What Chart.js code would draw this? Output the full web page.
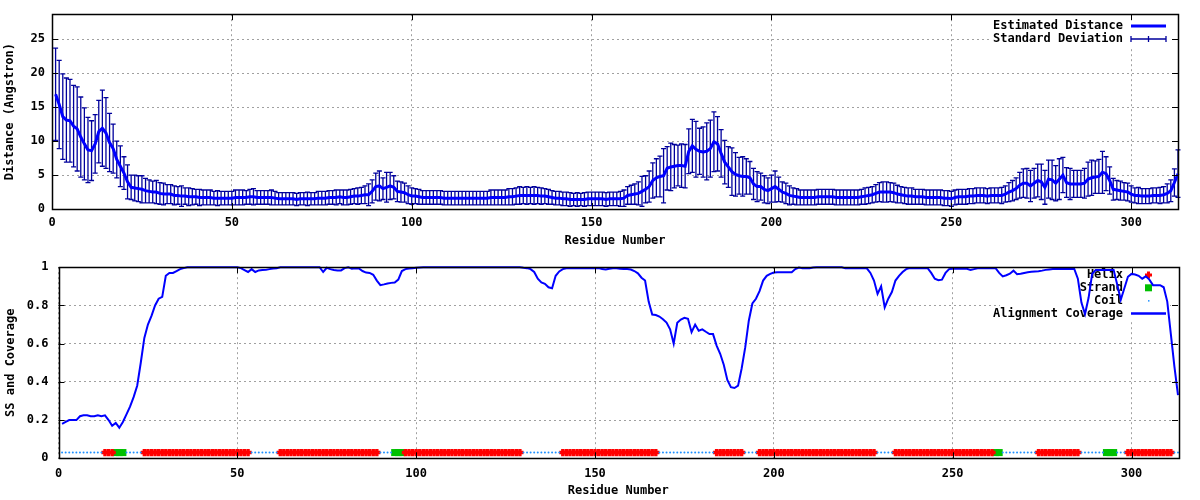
<!DOCTYPE html>
<html>
<head>
<meta charset="utf-8">
<script src="https://cdn.jsdelivr.net/npm/chart.js@4.4.0/dist/chart.umd.min.js"></script>
<style>
  body { margin: 0; background: #fff; }
  #wrap { position: relative; width: 1200px; height: 500px; }
  canvas { position: absolute; left: 0; }
  #chart-dist { top: 0; }
  #chart-cov { top: 250px; }
</style>
</head>
<body>
<div id="wrap">
  <canvas id="chart-dist" width="1200" height="250"></canvas>
  <canvas id="chart-cov" width="1200" height="250"></canvas>
</div>
<script>
// residue numbers 1..313
const residues = Array.from({ length: 313 }, (_, i) => i + 1);
const xTicks = [0, 50, 100, 150, 200, 250, 300];
const distTicks = [0, 5, 10, 15, 20, 25];
const covTicks = [0, 0.2, 0.4, 0.6, 0.8, 1];
const covTickLabels = ['0', '0.2', '0.4', '0.6', '0.8', '1'];

// estimated distance (Angstrom), one value per residue
const distance = [
  16.9, 15.4, 13.6, 13.1, 13.0, 12.2, 11.8, 10.6, 9.6, 8.7,
  8.6, 9.6, 11.4, 11.9, 11.2, 9.8, 8.9, 7.3, 6.3, 5.3,
  4.0, 3.2, 3.1, 3.0, 2.9, 2.7, 2.6, 2.5, 2.5, 2.3,
  2.2, 2.2, 2.2, 2.0, 2.0, 1.9, 1.9, 1.8, 1.8, 1.8,
  1.7, 1.7, 1.7, 1.7, 1.6, 1.6, 1.6, 1.6, 1.6, 1.6,
  1.7, 1.7, 1.7, 1.7, 1.8, 1.8, 1.7, 1.7, 1.7, 1.7,
  1.7, 1.6, 1.5, 1.5, 1.5, 1.5, 1.5, 1.4, 1.5, 1.5,
  1.5, 1.5, 1.5, 1.6, 1.6, 1.6, 1.7, 1.7, 1.7, 1.8,
  1.7, 1.7, 1.8, 1.9, 1.9, 2.0, 2.1, 2.1, 2.6, 3.3,
  3.4, 3.0, 3.2, 3.4, 3.2, 2.6, 2.5, 2.4, 2.1, 1.9,
  1.9, 1.8, 1.7, 1.7, 1.7, 1.7, 1.7, 1.7, 1.6, 1.6,
  1.6, 1.6, 1.6, 1.6, 1.6, 1.6, 1.6, 1.6, 1.6, 1.6,
  1.6, 1.7, 1.7, 1.7, 1.7, 1.7, 1.8, 1.8, 1.9, 2.0,
  2.0, 2.0, 2.0, 2.0, 2.0, 1.9, 1.9, 1.8, 1.7, 1.6,
  1.6, 1.5, 1.5, 1.4, 1.4, 1.4, 1.4, 1.4, 1.5, 1.5,
  1.5, 1.5, 1.5, 1.4, 1.5, 1.5, 1.5, 1.5, 1.6, 2.0,
  2.1, 2.2, 2.3, 2.6, 2.9, 3.3, 4.2, 4.6, 4.8, 4.9,
  6.0, 6.2, 6.3, 6.4, 6.4, 6.3, 8.5, 9.3, 8.8, 8.5,
  8.4, 8.5, 8.9, 9.9, 9.6, 8.2, 6.9, 6.2, 5.5, 5.1,
  4.9, 4.8, 4.8, 4.6, 3.7, 3.3, 3.3, 2.9, 2.7, 3.0,
  3.3, 2.9, 2.5, 2.3, 2.0, 1.9, 1.8, 1.7, 1.7, 1.7,
  1.7, 1.7, 1.8, 1.8, 1.8, 1.8, 1.8, 1.7, 1.7, 1.7,
  1.7, 1.7, 1.7, 1.7, 1.8, 1.9, 2.0, 2.1, 2.3, 2.5,
  2.5, 2.5, 2.5, 2.4, 2.2, 2.1, 2.0, 1.9, 1.9, 1.8,
  1.8, 1.8, 1.7, 1.7, 1.7, 1.7, 1.7, 1.6, 1.6, 1.5,
  1.7, 1.8, 1.8, 1.8, 1.9, 1.9, 2.0, 2.0, 2.0, 1.9,
  2.0, 2.0, 2.0, 2.0, 2.2, 2.5, 2.7, 3.0, 3.5, 3.8,
  3.8, 3.4, 3.8, 4.2, 4.0, 3.2, 4.4, 4.3, 3.8, 4.4,
  5.0, 3.9, 3.7, 3.7, 3.7, 3.7, 3.8, 4.4, 4.6, 4.7,
  4.8, 5.4, 5.2, 4.2, 2.9, 2.8, 2.7, 2.6, 2.5, 2.2,
  2.0, 2.0, 1.9, 1.9, 1.9, 2.0, 2.0, 2.0, 2.1, 2.3,
  2.7, 3.9, 5.2
];

// standard deviation of the distance
const distSD = [
  6.8, 6.5, 6.3, 6.2, 6.1, 6.0, 6.2, 5.9, 5.3, 4.8,
  4.4, 4.3, 4.6, 5.6, 5.2, 4.3, 3.6, 2.7, 3.0, 2.4,
  2.5, 1.8, 1.9, 1.9, 2.0, 1.8, 1.7, 1.6, 1.7, 1.6,
  1.6, 1.4, 1.4, 1.4, 1.3, 1.5, 1.2, 1.3, 1.2, 1.1,
  1.2, 1.1, 1.1, 1.1, 1.0, 1.1, 1.0, 1.0, 1.0, 1.0,
  1.1, 1.1, 1.1, 1.0, 1.1, 1.2, 1.0, 1.0, 1.0, 1.0,
  1.1, 1.0, 0.9, 0.9, 0.9, 0.9, 0.9, 0.9, 0.9, 0.9,
  1.0, 0.9, 0.9, 1.0, 1.0, 1.0, 1.0, 1.0, 1.1, 1.0,
  1.1, 1.1, 1.1, 1.1, 1.2, 1.2, 1.3, 1.6, 1.7, 2.0,
  2.2, 1.6, 2.2, 2.0, 1.7, 1.5, 1.5, 1.4, 1.3, 1.2,
  1.1, 1.1, 1.0, 1.0, 1.0, 1.0, 1.0, 1.0, 1.0, 1.0,
  1.0, 1.0, 1.0, 1.0, 1.0, 1.0, 1.0, 1.0, 1.0, 1.0,
  1.0, 1.1, 1.1, 1.1, 1.1, 1.1, 1.2, 1.2, 1.2, 1.3,
  1.2, 1.3, 1.2, 1.3, 1.2, 1.2, 1.1, 1.1, 1.0, 1.0,
  1.0, 1.0, 1.0, 1.0, 0.9, 1.0, 0.9, 1.0, 1.0, 1.0,
  1.0, 1.0, 1.0, 1.0, 1.0, 1.0, 1.0, 1.1, 1.2, 1.3,
  1.4, 1.5, 1.7, 2.2, 2.0, 2.3, 2.6, 2.8, 3.0, 4.0,
  3.2, 3.5, 3.2, 3.0, 3.2, 3.2, 3.3, 3.9, 4.1, 3.4,
  3.7, 4.2, 4.2, 4.4, 4.0, 3.5, 3.2, 3.0, 3.5, 3.2,
  2.7, 2.9, 2.6, 2.4, 2.3, 2.2, 2.0, 2.0, 1.9, 2.0,
  2.3, 1.8, 1.5, 1.5, 1.4, 1.2, 1.2, 1.1, 1.1, 1.1,
  1.1, 1.1, 1.1, 1.1, 1.1, 1.1, 1.1, 1.1, 1.1, 1.1,
  1.1, 1.1, 1.1, 1.1, 1.1, 1.2, 1.2, 1.2, 1.3, 1.4,
  1.5, 1.5, 1.4, 1.4, 1.3, 1.2, 1.2, 1.2, 1.2, 1.1,
  1.1, 1.1, 1.1, 1.1, 1.1, 1.1, 1.1, 1.1, 1.1, 1.1,
  1.1, 1.1, 1.1, 1.1, 1.1, 1.1, 1.1, 1.1, 1.1, 1.1,
  1.1, 1.1, 1.1, 1.2, 1.2, 1.4, 1.5, 1.6, 1.9, 2.1,
  2.2, 2.3, 2.2, 2.4, 2.6, 2.5, 2.8, 2.9, 2.6, 3.0,
  2.6, 2.2, 2.3, 2.0, 2.0, 2.0, 2.2, 2.5, 2.6, 2.4,
  2.5, 3.1, 2.5, 2.0, 1.6, 1.4, 1.4, 1.3, 1.3, 1.2,
  1.1, 1.2, 1.1, 1.1, 1.1, 1.1, 1.1, 1.2, 1.2, 1.4,
  1.6, 2.0, 3.5
];

// alignment coverage per residue
const coverage = [
  0.18, 0.19, 0.20, 0.20, 0.20, 0.22, 0.225, 0.225, 0.22, 0.22,
  0.225, 0.22, 0.225, 0.20, 0.17, 0.185, 0.16, 0.19, 0.23, 0.27,
  0.32, 0.38, 0.50, 0.63, 0.70, 0.745, 0.80, 0.835, 0.845, 0.955,
  0.97, 0.97, 0.98, 0.99, 0.995, 1, 1, 1, 1, 1,
  1, 1, 1, 1, 1, 1, 1, 1, 1, 1,
  0.995, 0.985, 0.975, 0.99, 0.975, 0.983, 0.985, 0.986, 0.99, 0.993,
  0.995, 1, 1, 1, 1, 1, 1, 1, 1, 1,
  1, 1, 1, 0.975, 0.997, 0.99, 0.985, 0.983, 0.983, 0.995,
  1, 0.992, 0.994, 0.993, 0.98, 0.972, 0.97, 0.96, 0.93, 0.906,
  0.91, 0.915, 0.918, 0.92, 0.935, 0.98, 0.99, 0.993, 0.995, 0.997,
  0.999, 1, 1, 1, 1, 1, 1, 1, 1, 1,
  1, 1, 1, 1, 1, 1, 1, 1, 1, 1,
  1, 1, 1, 1, 1, 1, 1, 1, 1, 0.997,
  0.995, 0.99, 0.975, 0.94, 0.92, 0.913, 0.895, 0.89, 0.955, 0.978,
  0.99, 0.994, 0.995, 0.995, 0.995, 0.995, 0.995, 0.995, 0.995, 0.995,
  0.995, 0.99, 0.988, 0.992, 0.995, 0.994, 0.992, 0.991, 0.99, 0.988,
  0.98, 0.968, 0.945, 0.93, 0.82, 0.752, 0.75, 0.742, 0.728, 0.71,
  0.675, 0.60, 0.709, 0.726, 0.735, 0.73, 0.66, 0.70, 0.668, 0.675,
  0.662, 0.65, 0.65, 0.59, 0.547, 0.49, 0.41, 0.372, 0.368, 0.38,
  0.47, 0.58, 0.72, 0.81, 0.835, 0.875, 0.93, 0.955, 0.965, 0.972,
  0.974, 0.974, 0.974, 0.974, 0.974, 0.99, 0.998, 0.995, 0.995, 0.995,
  0.998, 1, 1, 1, 1, 1, 1, 1, 1, 0.994,
  0.994, 0.994, 0.994, 0.994, 0.994, 0.994, 0.97, 0.93, 0.86, 0.90,
  0.79, 0.835, 0.87, 0.93, 0.955, 0.975, 0.99, 0.995, 0.995, 0.995,
  0.995, 0.995, 0.995, 0.97, 0.94, 0.932, 0.935, 0.97, 0.99, 0.992,
  0.992, 0.992, 0.992, 0.992, 0.985, 0.99, 0.994, 0.995, 0.995, 0.995,
  0.995, 0.995, 0.97, 0.952, 0.958, 0.966, 0.982, 0.963, 0.966, 0.97,
  0.974, 0.976, 0.978, 0.979, 0.982, 0.986, 0.988, 0.99, 0.991, 0.991,
  0.991, 0.991, 0.991, 0.991, 0.94, 0.815, 0.755, 0.84, 0.965, 0.985,
  0.986, 0.986, 0.986, 0.986, 0.986, 0.91, 0.83, 0.89, 0.95, 0.965,
  0.962, 0.955, 0.94, 0.952, 0.935, 0.906, 0.906, 0.906, 0.895, 0.82,
  0.65, 0.48, 0.33
];

// secondary structure: [type, first residue, last residue]  H=helix E=strand C=coil
const ssSegments = [
  ['C', 1, 12], ['H', 13, 15], ['E', 16, 18], ['C', 19, 23], ['H', 24, 53],
  ['C', 54, 61], ['H', 62, 89], ['C', 90, 93], ['E', 94, 96], ['H', 97, 129],
  ['C', 130, 140], ['H', 141, 167], ['C', 168, 183], ['H', 184, 191], ['C', 192, 195],
  ['H', 196, 228], ['C', 229, 233], ['H', 234, 261], ['E', 262, 263], ['C', 264, 273],
  ['H', 274, 285], ['C', 286, 292], ['E', 293, 295], ['C', 296, 298], ['H', 299, 311],
  ['C', 312, 313]
];
const ssLevel = 0.03;

Chart.defaults.font.family = '"DejaVu Sans Mono", monospace';
Chart.defaults.font.size = 12;
Chart.defaults.font.weight = 'bold';
Chart.defaults.color = '#000';

function ssType(r) {
  const seg = ssSegments.find(s => r >= s[1] && r <= s[2]);
  return seg ? seg[0] : null;
}
function ssSeries(type) {
  return residues.map(r => ({ x: r, y: ssType(r) === type ? ssLevel : null }));
}

// gnuplot style key: right aligned text, sample to the right, white box behind
const gnuKey = {
  id: 'gnuKey',
  beforeDatasetsDraw(chart, args, opts) {
    if (!opts.items) return;
    const ctx = chart.ctx;
    ctx.save();
    ctx.fillStyle = '#fff';
    ctx.fillRect(opts.box[0], opts.box[1], opts.box[2], opts.box[3]);
    ctx.font = 'bold 12px "DejaVu Sans Mono", monospace';
    ctx.textAlign = 'right';
    ctx.textBaseline = 'middle';
    opts.items.forEach((it, i) => {
      const y = opts.top + i * opts.step;
      ctx.fillStyle = '#000';
      ctx.fillText(it.text, opts.textRight, y);
      const x0 = opts.textRight + 8, x1 = x0 + 35, xm = (x0 + x1) / 2;
      ctx.strokeStyle = it.color;
      ctx.fillStyle = it.color;
      if (it.kind === 'line') {
        ctx.lineWidth = it.width || 3;
        ctx.beginPath(); ctx.moveTo(x0, y); ctx.lineTo(x1, y); ctx.stroke();
      } else if (it.kind === 'err') {
        ctx.lineWidth = 1.3;
        ctx.beginPath();
        ctx.moveTo(x0, y); ctx.lineTo(x1, y);
        ctx.moveTo(x0, y - 3); ctx.lineTo(x0, y + 3);
        ctx.moveTo(x1, y - 3); ctx.lineTo(x1, y + 3);
        ctx.moveTo(xm, y - 3); ctx.lineTo(xm, y + 3);
        ctx.stroke();
      } else if (it.kind === 'cross') {
        ctx.lineWidth = 3;
        ctx.beginPath();
        ctx.moveTo(xm - 3.5, y); ctx.lineTo(xm + 3.5, y);
        ctx.moveTo(xm, y - 3.5); ctx.lineTo(xm, y + 3.5);
        ctx.stroke();
      } else if (it.kind === 'square') {
        ctx.fillRect(xm - 3.5, y - 3.5, 7, 7);
      } else if (it.kind === 'dot') {
        ctx.fillRect(xm - 0.5, y - 0.5, 1.5, 1.5);
      }
    });
    ctx.restore();
  }
};

// vertical error bars with caps, drawn under the mean line
const errorBars = {
  id: 'errorBars',
  beforeDatasetsDraw(chart) {
    const { ctx, scales: { x, y } } = chart;
    ctx.save();
    ctx.strokeStyle = '#00009c';
    ctx.lineWidth = 1.3;
    ctx.beginPath();
    distance.forEach((m, i) => {
      const px = x.getPixelForValue(residues[i]);
      const top = y.getPixelForValue(m + distSD[i]);
      const bot = y.getPixelForValue(Math.max(0, m - distSD[i]));
      ctx.moveTo(px, top); ctx.lineTo(px, bot);
      ctx.moveTo(px - 2.5, top); ctx.lineTo(px + 2.5, top);
      ctx.moveTo(px - 2.5, bot); ctx.lineTo(px + 2.5, bot);
    });
    ctx.stroke();
    ctx.restore();
  }
};

// border on all four sides with inward tick marks
const frame = {
  id: 'frame',
  afterDatasetsDraw(chart) {
    const { ctx, chartArea: a, scales: { x, y } } = chart;
    ctx.save();
    ctx.strokeStyle = '#000';
    ctx.lineWidth = 1;
    ctx.beginPath();
    x.ticks.forEach(t => {
      const px = Math.round(x.getPixelForValue(t.value)) + 0.5;
      ctx.moveTo(px, a.bottom); ctx.lineTo(px, a.bottom - 6);
      ctx.moveTo(px, a.top); ctx.lineTo(px, a.top + 6);
    });
    y.ticks.forEach(t => {
      const py = Math.round(y.getPixelForValue(t.value)) + 0.5;
      ctx.moveTo(a.left, py); ctx.lineTo(a.left + 6, py);
      ctx.moveTo(a.right, py); ctx.lineTo(a.right - 6, py);
    });
    ctx.stroke();
    ctx.lineWidth = 1.5;
    ctx.strokeRect(Math.round(a.left) + 0.5, Math.round(a.top) + 0.5,
      Math.round(a.right - a.left), Math.round(a.bottom - a.top));
    ctx.restore();
  }
};

const gridStyle = { color: '#a0a0a0', lineWidth: 1, drawTicks: false };
const borderStyle = { display: false, dash: [2, 3] };

new Chart(document.getElementById('chart-dist'), {
  type: 'line',
  data: {
    datasets: [{
      label: 'Estimated Distance',
      data: residues.map((r, i) => ({ x: r, y: distance[i] })),
      borderColor: '#0000ff',
      borderWidth: 3,
      pointRadius: 0,
      tension: 0,
      clip: false
    }]
  },
  options: {
    responsive: false,
    animation: false,
    layout: { padding: { top: 14, right: 22, left: 0, bottom: 0 } },
    plugins: {
      legend: { display: false },
      tooltip: { enabled: false },
      gnuKey: {
        box: [992, 17, 178, 30], top: 26, step: 13, textRight: 1123,
        items: [
          { text: 'Estimated Distance', kind: 'line', color: '#0000ff' },
          { text: 'Standard Deviation', kind: 'err', color: '#00009c' }
        ]
      }
    },
    scales: {
      x: {
        type: 'linear', min: 0, max: 313,
        afterBuildTicks: s => { s.ticks = xTicks.map(v => ({ value: v })); },
        afterFit: s => { s.height = 41; },
        grid: gridStyle, border: borderStyle,
        ticks: { padding: 7, maxRotation: 0, autoSkip: false },
        title: { display: true, text: 'Residue Number', padding: { top: 0, bottom: 2 } }
      },
      y: {
        min: 0, max: 28.7,
        afterBuildTicks: s => { s.ticks = distTicks.map(v => ({ value: v })); },
        afterFit: s => { s.width = 52; },
        grid: gridStyle, border: borderStyle,
        ticks: { padding: 7 },
        title: { display: true, text: 'Distance (Angstron)', padding: { top: 3, bottom: 0 } }
      }
    }
  },
  plugins: [gnuKey, errorBars, frame]
});

new Chart(document.getElementById('chart-cov'), {
  type: 'line',
  data: {
    datasets: [
      {
        label: 'Coil',
        data: ssSeries('C'),
        showLine: false, pointStyle: 'circle', pointRadius: 1,
        pointBackgroundColor: '#1e90ff', pointBorderWidth: 0, clip: false
      },
      {
        label: 'Helix',
        data: ssSeries('H'),
        showLine: false, pointStyle: 'cross', pointRadius: 3.6,
        pointBorderColor: '#ff0000', pointBorderWidth: 3.4, clip: false
      },
      {
        label: 'Strand',
        data: ssSeries('E'),
        showLine: false, pointStyle: 'rect', pointRadius: 5,
        pointBackgroundColor: '#00c000', pointBorderColor: '#00c000', pointBorderWidth: 0, clip: false
      },
      {
        label: 'Alignment Coverage',
        data: residues.map((r, i) => ({ x: r, y: coverage[i] })),
        borderColor: '#0000ff', borderWidth: 2, pointRadius: 0, tension: 0, clip: false
      }
    ]
  },
  options: {
    responsive: false,
    animation: false,
    layout: { padding: { top: 13.3, right: 22, left: 0, bottom: 0 } },
    plugins: {
      legend: { display: false },
      tooltip: { enabled: false },
      gnuKey: {
        box: [1000, 15, 170, 55], top: 25, step: 12.8, textRight: 1123,
        items: [
          { text: 'Helix', kind: 'cross', color: '#ff0000' },
          { text: 'Strand', kind: 'square', color: '#00c000' },
          { text: 'Coil', kind: 'dot', color: '#1e90ff' },
          { text: 'Alignment Coverage', kind: 'line', color: '#0000ff', width: 2.5 }
        ]
      }
    },
    scales: {
      x: {
        type: 'linear', min: 0, max: 313,
        afterBuildTicks: s => { s.ticks = xTicks.map(v => ({ value: v })); },
        afterFit: s => { s.height = 41.7; },
        grid: gridStyle, border: borderStyle,
        ticks: { padding: 8, maxRotation: 0, autoSkip: false },
        title: { display: true, text: 'Residue Number', padding: { top: 0, bottom: 2 } }
      },
      y: {
        min: 0, max: 1,
        afterBuildTicks: s => { s.ticks = covTicks.map(v => ({ value: v })); },
        afterFit: s => { s.width = 58.5; },
        grid: gridStyle, border: borderStyle,
        ticks: { padding: 10, callback: (v, i) => covTickLabels[i] },
        title: { display: true, text: 'SS and Coverage', padding: { top: 4, bottom: 0 } }
      }
    }
  },
  plugins: [gnuKey, frame]
});
</script>
</body>
</html>
